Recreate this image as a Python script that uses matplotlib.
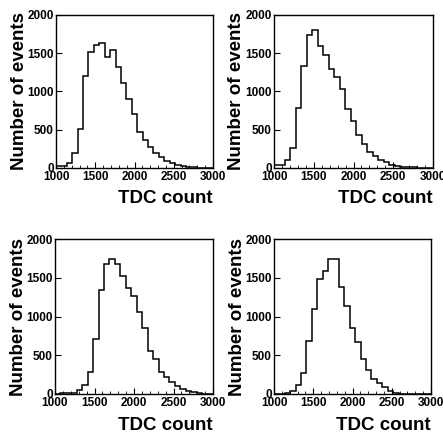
import matplotlib.pyplot as plt
import numpy as np

# TDC spectra, 29 bins between 1000 and 3000
tdc_min = 1000
tdc_max = 3000
n_bins = 29

counts_a = [20, 25, 60, 190, 505, 1200, 1510, 1610, 1630, 1450, 1540, 1320, 1110, 900,
            700, 470, 360, 280, 200, 140, 95, 60, 40, 25, 15, 10, 5, 0, 0]
counts_b = [40, 45, 100, 260, 780, 1330, 1740, 1800, 1590, 1480, 1290, 1190, 1030, 775,
            615, 430, 310, 210, 160, 110, 75, 45, 30, 18, 15, 8, 5, 0, 0]
counts_c = [5, 8, 10, 15, 47, 120, 280, 710, 1345, 1680, 1740, 1680, 1520, 1365,
            1260, 1060, 850, 560, 450, 290, 220, 155, 100, 65, 40, 25, 10, 5, 0]
counts_d = [5, 5, 10, 45, 120, 270, 690, 1100, 1480, 1590, 1740, 1740, 1380, 1140,
            850, 670, 450, 310, 195, 140, 85, 35, 12, 5, 0, 0, 0, 0, 0]

xticks = [1000, 1500, 2000, 2500, 3000]
yticks = [0, 500, 1000, 1500, 2000]

plt.rcParams['font.family'] = ['Liberation Sans', 'DejaVu Sans']

fig = plt.figure(figsize=(4.43, 4.32), dpi=100)

# [left, bottom, width, height]
panels = [
    (counts_a, [56/443, 1 - 168/432, 157/443, 153/432]),
    (counts_b, [274/443, 1 - 168/432, 159/443, 153/432]),
    (counts_c, [55/443, 1 - 394/432, 158/443, 155/432]),
    (counts_d, [274/443, 1 - 394/432, 157/443, 155/432]),
]

edges = np.linspace(tdc_min, tdc_max, n_bins + 1)

for counts, pos in panels:
    ax = fig.add_axes(pos)
    ax.stairs(counts, edges, color='black', linewidth=1.1, baseline=None)
    ax.set_xlim(tdc_min, tdc_max)
    ax.set_ylim(0, 2000)
    ax.set_xticks(xticks)
    ax.set_yticks(yticks)
    ax.set_xticks(np.arange(1100, 3000, 100), minor=True)
    ax.tick_params(axis='both', which='major', direction='in', length=4, width=0.8)
    ax.tick_params(axis='both', which='minor', direction='in', length=2, width=0.6)
    ax.tick_params(axis='x', pad=2)
    ax.tick_params(axis='y', pad=1.5)
    for lab in ax.get_xticklabels() + ax.get_yticklabels():
        lab.set_fontsize(8.5)
        lab.set_fontweight('bold')
    for sp in ax.spines.values():
        sp.set_linewidth(1.0)
    ax.set_ylabel('Number of events', fontsize=13.5, fontweight='bold')
    ax.yaxis.set_label_coords(-0.18, 0.5)
    ax.set_xlabel('TDC count', fontsize=13.5, fontweight='bold')
    ax.xaxis.set_label_coords(1.0, -0.2)
    ax.xaxis.label.set_ha('right')
    ax.xaxis.label.set_va('center')

fig.savefig('out.png', dpi=100)
